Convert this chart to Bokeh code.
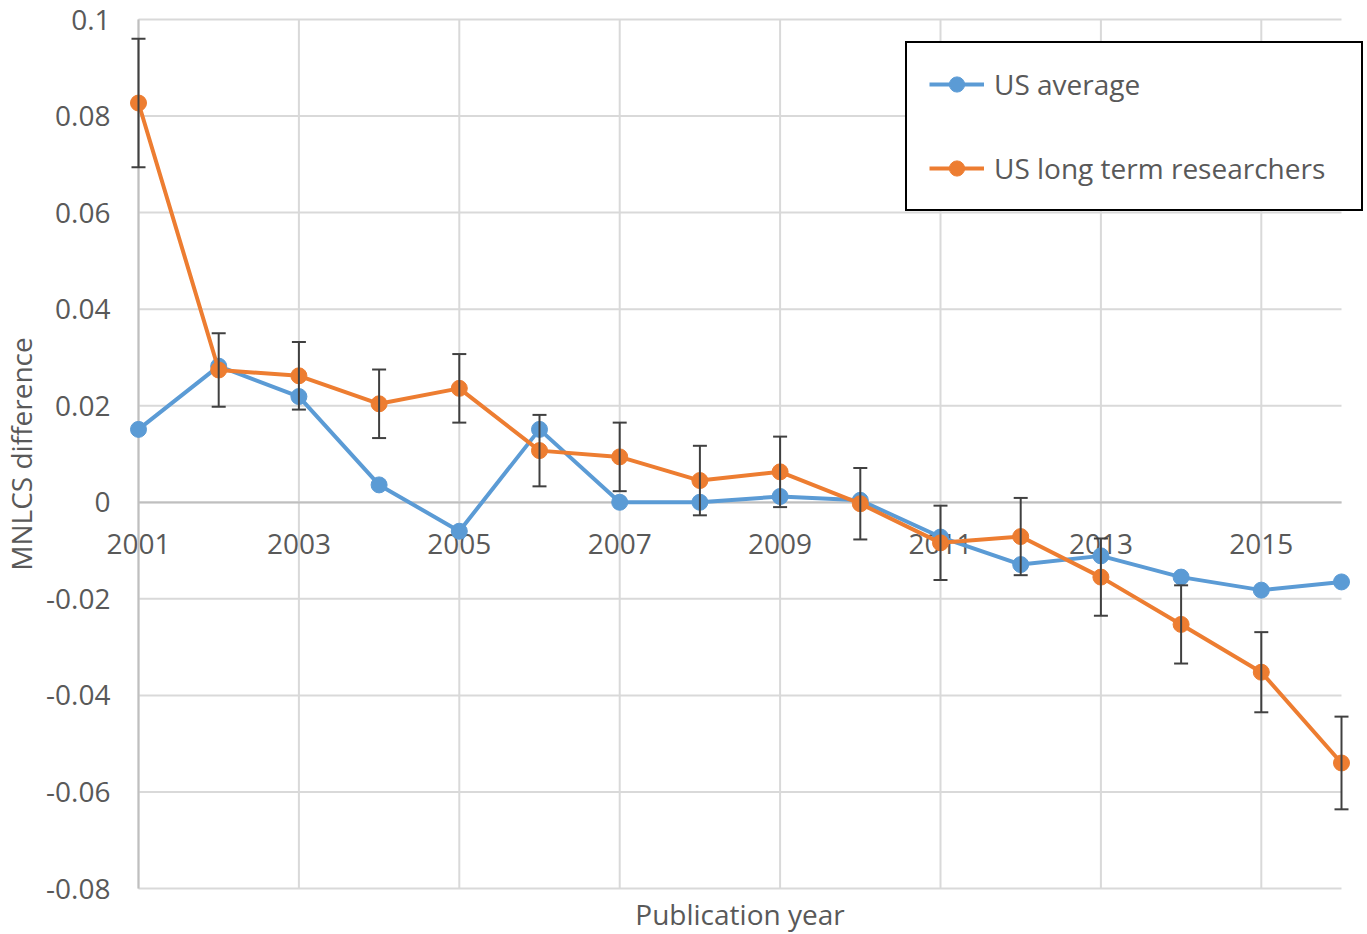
from bokeh.plotting import figure
from bokeh.models import (ColumnDataSource, Range1d, FixedTicker, Whisker, TeeHead, Label)
from bokeh.embed import file_html
from bokeh.resources import INLINE
import math

years = list(range(2001, 2017))
us_average = [0.0151, 0.0282, 0.0219, 0.0036, -0.0060, 0.0151, 0.0000, 0.0000,
              0.0012, 0.0004, -0.0072, -0.0129, -0.0111, -0.0155, -0.0182, -0.0165]
long_term = [0.0827, 0.0274, 0.0262, 0.0204, 0.0236, 0.0107, 0.0094, 0.0045,
             0.0063, -0.0003, -0.0084, -0.0071, -0.0155, -0.0253, -0.0352, -0.0540]
long_term_err = [0.0133, 0.0076, 0.0070, 0.0071, 0.0071, 0.0074, 0.0071, 0.0072,
                 0.0073, 0.0074, 0.0077, 0.0080, 0.0080, 0.0081, 0.0083, 0.0096]

x_ticks = [2001, 2003, 2005, 2007, 2009, 2011, 2013, 2015]
x_tick_labels = ["2001", "2003", "2005", "2007", "2009", "2011", "2013", "2015"]
y_ticks = [-0.08, -0.06, -0.04, -0.02, 0.0, 0.02, 0.04, 0.06, 0.08, 0.1]
y_tick_labels = ["-0.08", "-0.06", "-0.04", "-0.02", "0", "0.02", "0.04", "0.06", "0.08", "0.1"]

series_names = ["US average", "US long term researchers"]
x_title = "Publication year"
y_title = "MNLCS difference"

BLUE = "#5B9BD5"
ORANGE = "#ED7D31"
TEXT = "#595959"
GRID = "#D9D9D9"
AXIS = "#BFBFBF"
FONT = "Open Sans"
FS = "28px"

# canvas and plot-area geometry (pixels)
W, H = 1366, 932
LEFT, RIGHT, TOP, BOTTOM = 138, 1341, 19, 888
ppx = (RIGHT - LEFT) / (years[-1] - years[0])
ppy = (BOTTOM - TOP) / (y_ticks[-1] - y_ticks[0])
x_start = years[0] - LEFT / ppx
x_end = years[-1] + (W - RIGHT) / ppx
y_end = y_ticks[-1] + TOP / ppy
y_start = y_ticks[0] - (H - BOTTOM) / ppy


def px2x(px):
    return x_start + px / ppx


def px2y(py):
    return y_end - py / ppy


p = figure(width=W, height=H,
           x_range=Range1d(x_start, x_end), y_range=Range1d(y_start, y_end),
           output_backend="svg", toolbar_location=None,
           min_border=0, min_border_left=0, min_border_right=0,
           min_border_top=0, min_border_bottom=0)
p.outline_line_color = None
p.background_fill_color = "white"
p.xgrid.visible = False
p.ygrid.visible = False

# gridlines limited to the plot area
p.segment(x0=[years[0]] * len(y_ticks), x1=[years[-1]] * len(y_ticks), y0=y_ticks, y1=y_ticks,
          line_color=GRID, line_width=2, level="image")
p.segment(x0=x_ticks, x1=x_ticks, y0=[y_ticks[0]] * len(x_ticks), y1=[y_ticks[-1]] * len(x_ticks),
          line_color=GRID, line_width=2, level="image")

# axes
xa = p.xaxis[0]
xa.ticker = FixedTicker(ticks=x_ticks)
xa.major_label_overrides = dict(zip(x_ticks, x_tick_labels))
xa.fixed_location = 0
xa.bounds = (years[0], years[-1])
xa.axis_line_color = AXIS
xa.axis_line_width = 2
xa.major_tick_line_color = None
xa.minor_tick_line_color = None
xa.major_label_text_font = FONT
xa.major_label_text_font_size = FS
xa.major_label_text_color = TEXT
xa.major_label_standoff = 26
xa.level = "underlay"

ya = p.yaxis[0]
ya.ticker = FixedTicker(ticks=y_ticks)
ya.major_label_overrides = dict(zip(y_ticks, y_tick_labels))
ya.fixed_location = years[0]
ya.bounds = (y_ticks[0], y_ticks[-1])
ya.axis_line_color = AXIS
ya.axis_line_width = 2
ya.major_tick_line_color = None
ya.minor_tick_line_color = None
ya.major_label_text_font = FONT
ya.major_label_text_font_size = FS
ya.major_label_text_color = TEXT
ya.major_label_standoff = 22
ya.level = "underlay"

# error bars on long-term series
err_src = ColumnDataSource(dict(
    x=years,
    upper=[v + e for v, e in zip(long_term, long_term_err)],
    lower=[v - e for v, e in zip(long_term, long_term_err)],
))
whisk = Whisker(source=err_src, base="x", upper="upper", lower="lower",
                line_color="#404040", line_width=2, level="glyph",
                upper_head=TeeHead(size=14, line_color="#404040", line_width=2),
                lower_head=TeeHead(size=14, line_color="#404040", line_width=2))
p.add_layout(whisk)

src_avg = ColumnDataSource(dict(x=years, y=us_average))
src_lt = ColumnDataSource(dict(x=years, y=long_term))

p.line("x", "y", source=src_avg, line_color=BLUE, line_width=4, legend_label=series_names[0])
p.scatter("x", "y", source=src_avg, size=16, fill_color=BLUE, line_color=BLUE, legend_label=series_names[0])
p.line("x", "y", source=src_lt, line_color=ORANGE, line_width=4, legend_label=series_names[1])
p.scatter("x", "y", source=src_lt, size=16, fill_color=ORANGE, line_color=ORANGE, legend_label=series_names[1])

# axis titles
p.add_layout(Label(x=(years[0] + years[-1]) / 2, y=px2y(913),
                   text=x_title, text_font=FONT, text_font_size=FS, text_color=TEXT,
                   text_align="center", text_baseline="alphabetic"))
p.add_layout(Label(x=px2x(20), y=(y_ticks[0] + y_ticks[-1]) / 2,
                   text=y_title, text_font=FONT, text_font_size=FS, text_color=TEXT,
                   text_align="center", text_baseline="middle", angle=math.pi / 2))

# legend
lg = p.legend[0]
lg.location = (905, H - 211)
lg.border_line_color = "black"
lg.border_line_width = 2
lg.border_line_alpha = 1
lg.background_fill_color = "white"
lg.background_fill_alpha = 1
lg.label_text_font = FONT
lg.label_text_font_size = FS
lg.label_text_color = TEXT
lg.glyph_width = 55
lg.glyph_height = 38
lg.label_height = 38
lg.label_width = 345
lg.spacing = 46
lg.padding = 22
lg.margin = 0
lg.label_standoff = 10

open("out.html", "w").write(file_html(p, INLINE))
